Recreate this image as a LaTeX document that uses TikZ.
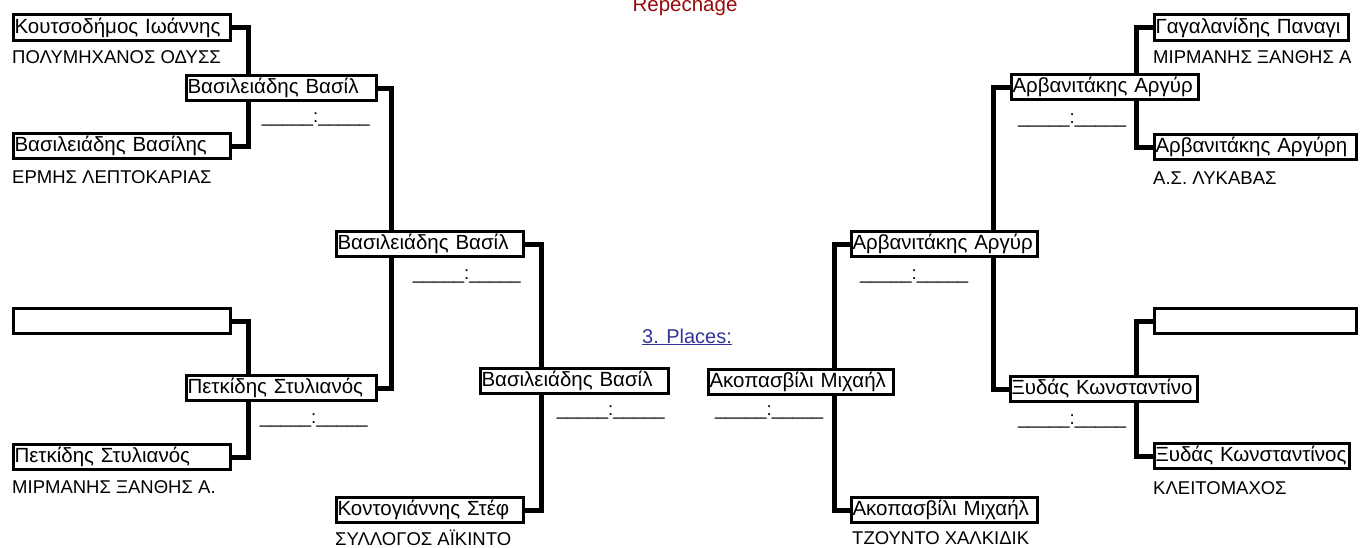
\documentclass[tikz,border=0pt]{standalone}
\usepackage{fontspec}
\setmainfont{Liberation Sans}
\newcommand\bxfont{\fontsize{20.5}{24}\selectfont}
\newcommand\clfont{\fontsize{18.5}{21}\selectfont}
\newcommand\scfont{\fontsize{18.5}{22}\selectfont}
\definecolor{repred}{RGB}{150,10,10}
\definecolor{plblue}{RGB}{51,51,153}
\pgfdeclarelayer{bg}
\pgfsetlayers{bg,main}
\begin{document}
\begin{tikzpicture}[x=1pt,y=-1pt,
  bx/.style={draw, line width=3pt, fill=white, inner xsep=1.5pt, inner ysep=0pt,
    minimum height=25.5pt, align=left, anchor=west, font=\bxfont},
  club/.style={anchor=west, inner sep=0pt, font=\clfont},
  scL/.style={anchor=base east, inner sep=0pt, font=\scfont},
  scR/.style={anchor=base west, inner sep=0pt, font=\scfont},
  conn/.style={line width=5pt, line join=miter}]
\useasboundingbox (0,0) rectangle (1368,547);

% ---- left first round
\node[bx, text width=214pt] (a1) at (11.5,27.5) {\mbox{Κουτσοδήμος Ιωάννης}};
\node[bx, text width=214pt] (a2) at (11.5,146) {\mbox{Βασιλειάδης Βασίλης}};
\node[bx, text width=214pt] (a3) at (11.5,321) {};
\node[bx, text width=214pt] (a4) at (11.5,457) {\mbox{Πετκίδης Στυλιανός}};
\node[club] (a1c) at (12,57) {ΠΟΛΥΜΗΧΑΝΟΣ ΟΔΥΣΣ};
\node[club] (a2c) at (12,177) {ΕΡΜΗΣ ΛΕΠΤΟΚΑΡΙΑΣ};
\node[club] (a4c) at (12,487) {ΜΙΡΜΑΝΗΣ ΞΑΝΘΗΣ Α.};

% ---- left second round
\node[bx, text width=187pt] (b1) at (184.5,88) {\mbox{Βασιλειάδης Βασίλ}};
\node[bx, text width=187pt] (b2) at (184.5,388) {\mbox{Πετκίδης Στυλιανός}};
\node[scL] (b1s) at (370,122) {\_\_\_\_\_:\_\_\_\_\_};
\node[scL] (b2s) at (368,423) {\_\_\_\_\_:\_\_\_\_\_};

% ---- left third round / repechage
\node[bx, text width=184pt] (c1) at (334.5,244) {\mbox{Βασιλειάδης Βασίλ}};
\node[bx, text width=184pt] (e1) at (334.5,510) {\mbox{Κοντογιάννης Στέφ}};
\node[club] (e1c) at (335,538) {ΣΥΛΛΟΓΟΣ ΑΪΚΙΝΤΟ};
\node[scL] (c1s) at (521,279) {\_\_\_\_\_:\_\_\_\_\_};
\node[bx, text width=185pt] (d1) at (478.5,381) {\mbox{Βασιλειάδης Βασίλ}};
\node[scL] (d1s) at (665,415) {\_\_\_\_\_:\_\_\_\_\_};

% ---- right third round / repechage
\node[bx, text width=182pt] (d2) at (706.5,382) {\mbox{Ακοπασβίλι Μιχαήλ}};
\node[scR] (d2s) at (715,415) {\_\_\_\_\_:\_\_\_\_\_};
\node[bx, text width=183pt] (rc1) at (849.5,244) {\mbox{Αρβανιτάκης Αργύρ}};
\node[scR] (rc1s) at (860,279) {\_\_\_\_\_:\_\_\_\_\_};
\node[bx, text width=183pt] (f1) at (849.5,510) {\mbox{Ακοπασβίλι Μιχαήλ}};
\node[club] (f1c) at (852,538) {ΤΖΟΥΝΤΟ ΧΑΛΚΙΔΙΚ};

% ---- right second round
\node[bx, text width=184pt] (rb1) at (1009.5,87) {\mbox{Αρβανιτάκης Αργύρ}};
\node[bx, text width=184pt] (rb2) at (1008.5,389) {\mbox{Ξυδάς Κωνσταντίνο}};
\node[scR] (rb1s) at (1018,123) {\_\_\_\_\_:\_\_\_\_\_};
\node[scR] (rb2s) at (1018,424) {\_\_\_\_\_:\_\_\_\_\_};

% ---- right first round
\node[bx, text width=191pt] (r1) at (1152.5,27.5) {\mbox{Γαγαλανίδης Παναγι}};
\node[bx, text width=199pt] (r2) at (1152.5,147) {\mbox{Αρβανιτάκης Αργύρη}};
\node[bx, text width=199pt] (r3) at (1152.5,321) {};
\node[bx, text width=192pt] (r4) at (1152.5,456) {\mbox{Ξυδάς Κωνσταντίνος}};
\node[club] (r1c) at (1153,57) {ΜΙΡΜΑΝΗΣ ΞΑΝΘΗΣ Α};
\node[club] (r2c) at (1153,178) {Α.Σ. ΛΥΚΑΒΑΣ};
\node[club] (r4c) at (1153,488) {ΚΛΕΙΤΟΜΑΧΟΣ};

% ---- titles
\node[anchor=base, inner sep=0pt, text=repred, font=\fontsize{20.5}{24}\selectfont] (rep) at (685,11) {Repechage};
\node[anchor=base west, inner sep=0pt, text=plblue, font=\fontsize{20}{23}\selectfont] (pl) at (642,343) {\underline{3. Places:}};

% ---- connectors
\begin{pgfonlayer}{bg}
\draw[conn] (a1.east) -- ++(16.5,0) |- (a2.east);
\draw[conn] (a3.east) -- ++(16.5,0) |- (a4.east);
\draw[conn] (b1.east) -- ++(13.5,0) |- (b2.east);
\draw[conn] (c1.east) -- ++(16.5,0) |- (e1.east);
\draw[conn] (rc1.west) -- ++(-15.5,0) |- (f1.west);
\draw[conn] (rb1.west) -- ++(-16.5,0) |- (rb2.west);
\draw[conn] (r1.west) -- ++(-16.5,0) |- (r2.west);
\draw[conn] (r3.west) -- ++(-16.5,0) |- (r4.west);
\end{pgfonlayer}
\end{tikzpicture}
\end{document}
